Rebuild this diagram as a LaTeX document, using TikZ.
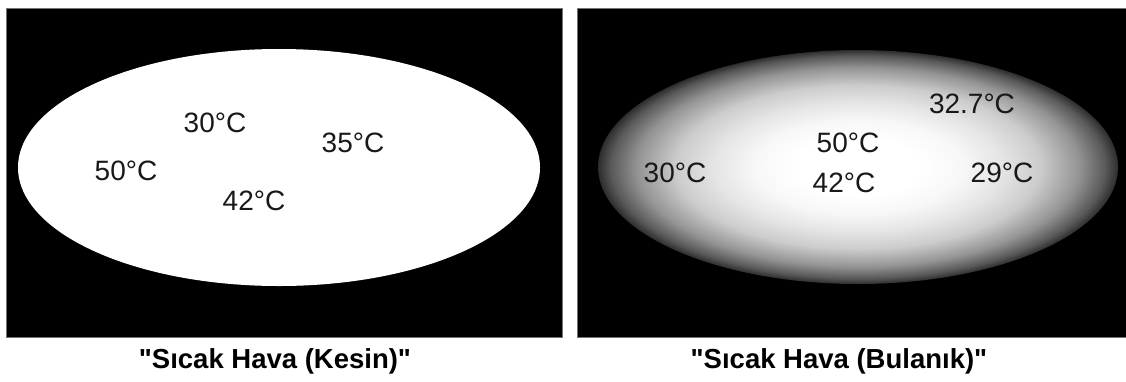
\documentclass[tikz,border=0pt]{standalone}
\usepackage{fontspec}
\setmainfont{Liberation Sans}[Ligatures=TeXOff]
\pgfdeclareradialshading{fuzzyheat}{\pgfpoint{0bp}{0bp}}{%
  rgb(0bp)=(1,1,1);
  rgb(6bp)=(1,1,1);
  rgb(10bp)=(0.97,0.97,0.97);
  rgb(13.75bp)=(0.9,0.9,0.9);
  rgb(17.5bp)=(0.8,0.8,0.8);
  rgb(21.25bp)=(0.58,0.58,0.58);
  rgb(23.75bp)=(0.35,0.35,0.35);
  rgb(25bp)=(0.18,0.18,0.18);
  rgb(25.4bp)=(0,0,0);
  rgb(100bp)=(0,0,0)}
\begin{document}
\begin{tikzpicture}[x=1pt,y=-1pt,
  panel/.style={fill=black,draw=black!55,line width=0.8pt},
  temp/.style={inner sep=0pt,anchor=center,text=black!90,font=\fontsize{28}{30}\selectfont},
  caption/.style={inner sep=0pt,anchor=base,font=\bfseries\fontsize{27.5}{30}\selectfont}]
\useasboundingbox (0,0) rectangle (1126,381);
\fill[white] (0,0) rectangle (1126,381);
% panels
\draw[panel] (6.5,8) rectangle (562,337);
\draw[panel] (577,8) rectangle (1130,337);
% crisp set
\fill[white] (279,167.5) ellipse [x radius=261pt, y radius=118.5pt];
% fuzzy set
\shade[shading=fuzzyheat] (858,167) ellipse [x radius=260pt, y radius=117pt];
% left labels
\node[temp] (l30) at (215,123) {30°C};
\node[temp] (l35) at (353,143) {35°C};
\node[temp] (l50) at (126,171) {50°C};
\node[temp] (l42) at (254,201) {42°C};
% right labels
\node[temp] (r327) at (972,104) {32.7°C};
\node[temp] (r50) at (848,143) {50°C};
\node[temp] (r42) at (844,183) {42°C};
\node[temp] (r30) at (675,173) {30°C};
\node[temp] (r29) at (1002,173) {29°C};
% captions
\node[caption] (capL) at (275,368) {"Sıcak Hava (Kesin)"};
\node[caption] (capR) at (839,368) {"Sıcak Hava (Bulanık)"};
\end{tikzpicture}
\end{document}
